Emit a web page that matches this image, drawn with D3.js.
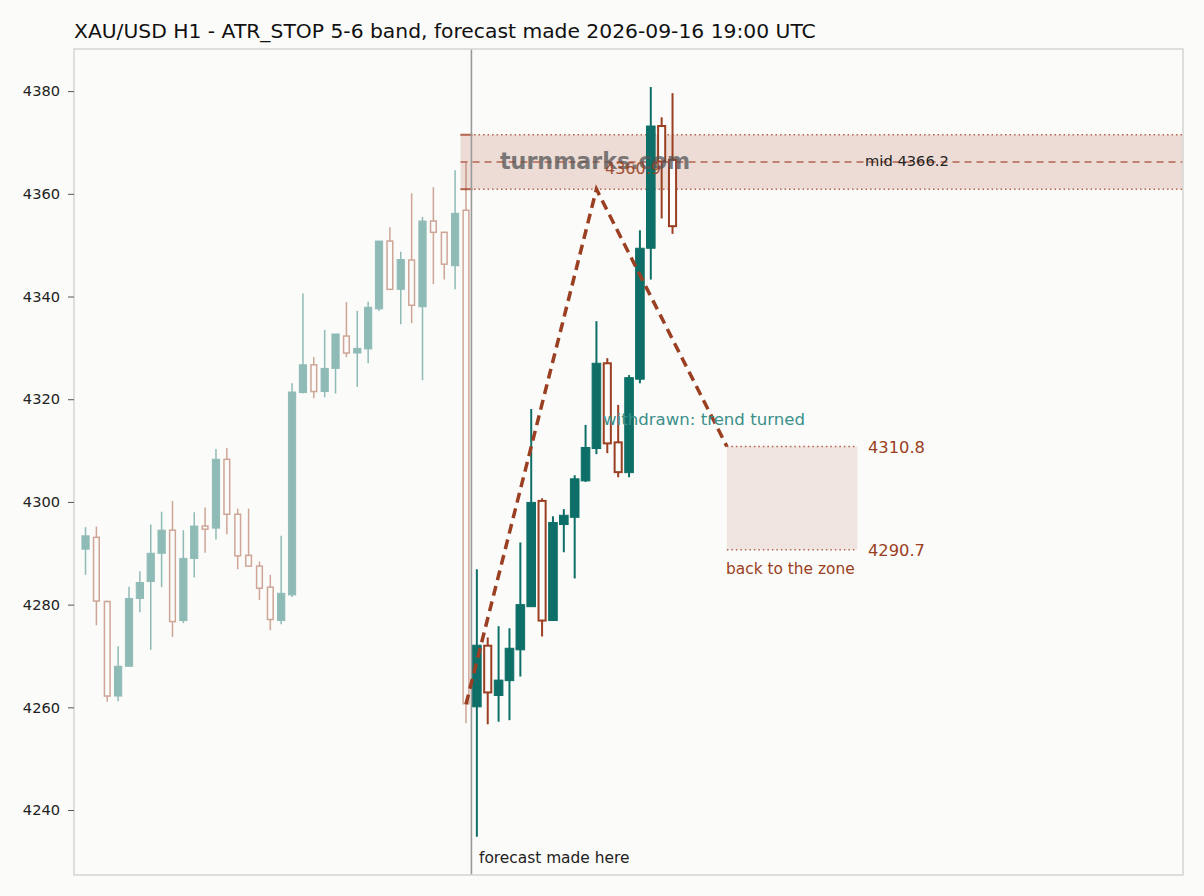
<!DOCTYPE html>
<html>
<head>
<meta charset="utf-8">
<script src="https://cdn.jsdelivr.net/npm/d3@7/dist/d3.min.js"></script>
<style>
  html, body { margin: 0; padding: 0; background: #fbfbf9; }
  svg { display: block; font-family: "DejaVu Sans", sans-serif; }
</style>
</head>
<body>
<svg id="chart" width="1204" height="896"></svg>
<script>
// ---- data ----
const candleIndex = d3.range(55);
const opens  = [4290.8,4293.1,4280.6,4262.2,4268.0,4281.2,4284.5,4290.0,4294.5,4276.9,4289.0,4295.3,4294.9,4308.3,4297.6,4289.6,4287.5,4283.4,4276.9,4281.9,4321.3,4326.7,4321.5,4326.0,4332.3,4329.0,4329.8,4337.6,4350.8,4341.4,4347.1,4338.0,4354.7,4352.5,4346.0,4356.8,
                4260.1,4272.0,4262.3,4265.2,4271.2,4279.6,4300.2,4276.9,4295.6,4297.0,4304.1,4310.4,4327.0,4311.6,4305.7,4323.9,4349.4,4373.2,4366.6];
const highs  = [4295.1,4295.2,4280.8,4271.9,4283.5,4286.5,4295.6,4298.1,4300.2,4294.5,4298.0,4298.9,4310.3,4310.5,4298.7,4298.7,4288.4,4285.8,4293.4,4323.1,4340.6,4328.2,4333.5,4332.7,4338.9,4337.2,4339.0,4350.8,4353.5,4348.7,4360.1,4355.5,4361.3,4352.6,4364.6,4366.0,
                4286.9,4273.6,4275.8,4275.4,4292.1,4318.1,4300.7,4297.2,4298.6,4305.2,4315.0,4335.2,4328.0,4318.9,4324.7,4352.9,4380.8,4374.9,4379.6];
const lows   = [4285.8,4276.0,4261.1,4261.2,4267.9,4278.5,4271.2,4283.4,4273.7,4276.4,4285.3,4290.1,4292.7,4293.7,4286.9,4287.5,4280.9,4275.0,4276.2,4281.5,4321.1,4320.2,4320.4,4321.1,4328.2,4322.4,4327.0,4337.2,4341.3,4334.6,4334.8,4323.7,4342.4,4343.3,4341.4,4256.9,
                4234.8,4256.7,4257.2,4257.5,4266.0,4279.6,4273.8,4276.9,4290.2,4285.1,4303.9,4309.3,4309.5,4304.8,4304.8,4323.1,4343.3,4355.2,4352.2];
const closes = [4293.4,4280.7,4262.2,4268.0,4281.2,4284.3,4290.0,4294.5,4276.7,4289.0,4295.3,4294.7,4308.3,4297.6,4289.5,4287.5,4283.2,4277.1,4282.2,4321.4,4326.7,4321.5,4326.0,4332.7,4329.0,4329.9,4337.9,4350.8,4341.4,4347.2,4338.3,4354.7,4352.5,4346.3,4356.2,4260.7,
                4272.1,4262.9,4265.3,4271.5,4280.0,4299.9,4276.9,4296.0,4297.4,4304.5,4310.6,4327.0,4311.4,4305.8,4324.2,4349.4,4373.2,4366.3,4353.7];
const forecastStart = 36;          // first candle after the forecast moment
const forecastMoment = 35.5;
const pathIdx = [35, 47, 59];
const pathVal = [4260.6, 4360.9, 4310.8];
const bandUpper = 4371.5, bandLower = 4360.9, bandMid = 4366.2;
const bandStart = 34.5;
const targetHigh = 4310.8, targetLow = 4290.7;
const targetStart = 59, targetEnd = 71;
const yTicks = [4240, 4260, 4280, 4300, 4320, 4340, 4360, 4380];
const titleText = "XAU/USD H1 - ATR_STOP 5-6 band, forecast made 2026-09-16 19:00 UTC";

// ---- layout ----
const L = 74, R = 1183, T = 49, B = 875;
const svg = d3.select("#chart");
const x = d3.scaleLinear().domain([-1.06, 100.96]).range([L, R]);
const y = d3.scaleLinear().domain([4227.35, 4388.2]).range([B, T]);

const TEAL = "#0e6f68", BROWN = "#9a3f22";

svg.append("rect").attr("width", 1204).attr("height", 896).attr("fill", "#fbfbf9");

// title
svg.append("text").attr("x", 74).attr("y", 38).attr("font-size", 20.3).attr("fill", "#111")
  .text(titleText);

const plot = svg.append("g");
plot.append("clipPath").attr("id", "clip").append("rect")
  .attr("x", L).attr("y", T).attr("width", R - L).attr("height", B - T);
const g = plot.append("g").attr("clip-path", "url(#clip)");

// band
g.append("rect").attr("x", x(bandStart)).attr("y", y(bandUpper))
  .attr("width", R - x(bandStart)).attr("height", y(bandLower) - y(bandUpper))
  .attr("fill", "#ecdcd5");
[bandUpper, bandLower].forEach(v => {
  g.append("line").attr("x1", x(bandStart)).attr("x2", R).attr("y1", y(v)).attr("y2", y(v))
    .attr("stroke", "#b5644e").attr("stroke-width", 1.5).attr("stroke-dasharray", "1.5,3");
  g.append("line").attr("x1", x(bandStart)).attr("x2", x(forecastMoment) + 1).attr("y1", y(v)).attr("y2", y(v))
    .attr("stroke", "#b5644e").attr("stroke-width", 2);
});
g.append("line").attr("x1", x(bandStart)).attr("x2", R).attr("y1", y(bandMid)).attr("y2", y(bandMid))
  .attr("stroke", "#b5644e").attr("stroke-width", 1.5).attr("stroke-dasharray", "7,5");

// target zone
g.append("rect").attr("x", x(targetStart)).attr("y", y(targetHigh))
  .attr("width", x(targetEnd) - x(targetStart)).attr("height", y(targetLow) - y(targetHigh))
  .attr("fill", "#efe4df");
[targetHigh, targetLow].forEach(v => {
  g.append("line").attr("x1", x(targetStart)).attr("x2", x(targetEnd)).attr("y1", y(v)).attr("y2", y(v))
    .attr("stroke", "#b5644e").attr("stroke-width", 1.5).attr("stroke-dasharray", "1.5,3");
});

// candles
const data = candleIndex.map(i => ({i, o: opens[i], h: highs[i], l: lows[i], c: closes[i], fut: i >= forecastStart}));
const cg = g.append("g");
data.forEach(d => {
  const up = d.c >= d.o;
  const col = up ? TEAL : BROWN;
  const grp = cg.append("g").attr("opacity", d.fut ? 1 : 0.45);
  const bw = d.fut ? 8.6 : 7.2;
  const cx = x(d.i);
  grp.append("line").attr("x1", cx).attr("x2", cx).attr("y1", y(d.h)).attr("y2", y(d.l))
    .attr("stroke", col).attr("stroke-width", d.fut ? 2 : 1.5);
  const top = y(Math.max(d.o, d.c)), bot = y(Math.min(d.o, d.c));
  if (up) {
    grp.append("rect").attr("x", cx - bw / 2).attr("y", top).attr("width", bw).attr("height", Math.max(bot - top, 1))
      .attr("fill", col).attr("stroke", col).attr("stroke-width", 1);
  } else {
    grp.append("rect").attr("x", cx - bw / 2 + 0.75).attr("y", top).attr("width", bw - 1.5).attr("height", Math.max(bot - top, 1))
      .attr("fill", "#fbfbf9").attr("stroke", col).attr("stroke-width", d.fut ? 2 : 1.5);
  }
});

// forecast moment line
g.append("line").attr("x1", x(forecastMoment)).attr("x2", x(forecastMoment)).attr("y1", T).attr("y2", B)
  .attr("stroke", "#9a9a9a").attr("stroke-width", 1.6);

// forecast path
const pathPts = pathIdx.map((d, k) => [x(d), y(pathVal[k])]);
g.append("path").attr("d", d3.line()(pathPts)).attr("fill", "none")
  .attr("stroke", "#9a3f22").attr("stroke-width", 3.5).attr("stroke-dasharray", "10,6");

// watermark + labels
svg.append("text").attr("x", 500).attr("y", 169).attr("font-size", 22.2).attr("font-weight", "bold")
  .attr("fill", "#555").attr("opacity", 0.75).text("turnmarks.com");
svg.append("text").attr("x", 605).attr("y", 174).attr("font-size", 16).attr("fill", BROWN).attr("opacity", 0.9)
  .text(d3.format(".1f")(pathVal[1]));
svg.append("text").attr("x", 865).attr("y", 166).attr("font-size", 14.7).attr("fill", "#222")
  .text("mid " + d3.format(".1f")(bandMid));
svg.append("text").attr("x", 603).attr("y", 425).attr("font-size", 16.6).attr("fill", "#3c908a")
  .text("withdrawn: trend turned");
svg.append("text").attr("x", 868).attr("y", 453).attr("font-size", 16.3).attr("fill", BROWN)
  .text(d3.format(".1f")(targetHigh));
svg.append("text").attr("x", 868).attr("y", 556).attr("font-size", 16.3).attr("fill", BROWN)
  .text(d3.format(".1f")(targetLow));
svg.append("text").attr("x", 726).attr("y", 574).attr("font-size", 15.4).attr("fill", BROWN)
  .text("back to the zone");
svg.append("text").attr("x", 479).attr("y", 863).attr("font-size", 15.4).attr("fill", "#222")
  .text("forecast made here");

// frame
svg.append("rect").attr("x", L).attr("y", T).attr("width", R - L).attr("height", B - T)
  .attr("fill", "none").attr("stroke", "#d4d6d3").attr("stroke-width", 1.5);

// y axis
const yAxis = d3.axisLeft(y).tickValues(yTicks).tickSize(6).tickPadding(8).tickFormat(d3.format("d"));
const ya = svg.append("g").attr("transform", `translate(${L},0)`).call(yAxis);
ya.select(".domain").remove();
ya.selectAll(".tick line").attr("stroke", "#555");
ya.selectAll(".tick text").attr("font-size", 14.6).attr("fill", "#222").attr("font-family", "DejaVu Sans");
</script>
</body>
</html>
